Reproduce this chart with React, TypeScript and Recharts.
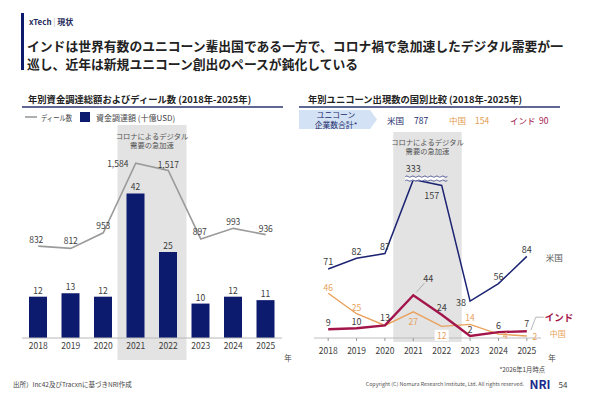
import React from 'react';
import {
  ComposedChart,
  LineChart,
  Bar,
  Line,
  XAxis,
  YAxis,
  ReferenceArea,
  LabelList,
} from 'recharts';

const years = ['2018', '2019', '2020', '2021', '2022', '2023', '2024', '2025'];
const funding = [12, 13, 12, 42, 25, 10, 12, 11];
const deals = [832, 812, 953, 1584, 1517, 897, 993, 936];
const usUnicorns = [71, 82, 87, 333, 157, 38, 56, 84];
const chinaUnicorns = [46, 25, 13, 27, 12, 14, 4, 2];
const indiaUnicorns = [9, 10, 13, 44, 24, 2, 6, 7];
const totalNames = ['米国', '中国', 'インド'];
const totalValues = [787, 154, 90];

// values above this are drawn at the axis break
const US_BREAK = 163;

const FONT = '"Noto Sans CJK JP", "Noto Sans", sans-serif';
const NAVY = '#0d1b6e';
const US_BLUE = '#1b2372';
const ORANGE = '#e9a15b';
const CRIMSON = '#a3154a';
const INK = '#3c3c3c';
const SHADE = '#e3e3e3';

const leftMargin = { top: 128, right: 18, bottom: 25, left: 22 };
const rightMargin = { top: 132, right: 49, bottom: 25, left: 14 };
const RIGHT_W = 290;
const STEP = (RIGHT_W - rightMargin.left - rightMargin.right) / years.length;

const leftData = years.map((year, i) => ({ year, funding: funding[i], deals: deals[i] }));
const rightData = years.map((year, i) => ({
  year,
  us: usUnicorns[i],
  china: chinaUnicorns[i],
  india: indiaUnicorns[i],
}));

type Spot = [number, number] | null;

const pointOf = (p: any) => {
  const vb = p.viewBox || {};
  return { x: (vb.x ?? p.x) as number, y: (vb.y ?? p.y) as number, i: p.index as number };
};

const shade = (padL: number, padR: number, padTop: number, padBottom: number, textY: number) => (p: any) => {
  const cx = p.x + (p.width - padL + padR) / 2;
  const top = p.y - padTop;
  return (
    <g>
      <rect x={p.x - padL} y={top} width={p.width + padL + padR} height={p.height + padTop + padBottom} fill={SHADE} />
      <text x={cx} y={top + textY} textAnchor="middle" dominantBaseline="central" fontSize={7.3} fill="#555">
        コロナによるデジタル
      </text>
      <text x={cx} y={top + textY + 9} textAnchor="middle" dominantBaseline="central" fontSize={7.3} fill="#555">
        需要の急加速
      </text>
    </g>
  );
};

const dealSpots: Spot[] = [[-2, -7], [0, -8], [0, -8], [-18, 0], [0, -7], [-1, -8], [0, -7], [0, -7]];
const DealLabel = (p: any) => {
  const { x, y, i } = pointOf(p);
  const s = dealSpots[i];
  if (!s) return null;
  return (
    <text x={x + s[0]} y={y + s[1]} textAnchor="middle" dominantBaseline="central" fontSize={8.5} fill={INK}>
      {deals[i].toLocaleString('en-US')}
    </text>
  );
};

const wave = (x0: number, x1: number, y: number) => {
  let d = `M${x0},${y}`;
  for (let x = x0; x < x1; x += 6) d += ' q1.5,-1.3 3,0 t3,0';
  return d;
};

const BreakMark = ({ x0, x1, y }: { x0: number; x1: number; y: number }) => (
  <g>
    <rect x={x0} y={y - 2} width={x1 - x0} height={4} fill="#fff" />
    <path d={wave(x0, x1, y - 2)} fill="none" stroke={US_BLUE} strokeWidth={0.7} />
    <path d={wave(x0, x1, y + 2)} fill="none" stroke={US_BLUE} strokeWidth={0.7} />
  </g>
);

const usSpots: Spot[] = [[0, -8], [0, -7], [0, -7], [0, -11], [-10, 10], [-9, 1], [0, -7], [0, -7]];
const UsLabel = (p: any) => {
  const { x, y, i } = pointOf(p);
  const s = usSpots[i];
  return (
    <g>
      {usUnicorns[i] > US_BREAK && <BreakMark x0={x - 8} x1={x + STEP + 2} y={y - 1} />}
      {s && (
        <text x={x + s[0]} y={y + s[1]} textAnchor="middle" dominantBaseline="central" fontSize={9} fill={INK}>
          {usUnicorns[i]}
        </text>
      )}
      {i === years.length - 1 && (
        <text x={x + 19} y={y + 1} dominantBaseline="central" fontSize={8.5} fill="#555">
          米国
        </text>
      )}
    </g>
  );
};

const chinaSpots: Spot[] = [[0, -6.5], [0, -7], null, [0, 9], [0, 9], [0, -7.5], [7, 1], [8, 0]];
const ChinaLabel = (p: any) => {
  const { x, y, i } = pointOf(p);
  const s = chinaSpots[i];
  return (
    <g>
      {s && i === 4 && <rect x={x + s[0] - 7} y={y + s[1] - 5.5} width={14} height={11} fill="#fff" />}
      {s && (
        <text x={x + s[0]} y={y + s[1]} textAnchor="middle" dominantBaseline="central" fontSize={8.5} fill={ORANGE}>
          {chinaUnicorns[i]}
        </text>
      )}
      {i === years.length - 1 && (
        <text x={x + 23} y={y - 3} dominantBaseline="central" fontSize={8} fill={ORANGE}>
          中国
        </text>
      )}
    </g>
  );
};

const indiaSpots: Spot[] = [[0, -7], [0, -6.5], [0, -8], [15, -17], [0, -7], [0, -7], [0, -6.5], [0, -8]];
const IndiaLabel = (p: any) => {
  const { x, y, i } = pointOf(p);
  const s = indiaSpots[i];
  const last = i === years.length - 1;
  return (
    <g>
      {i === 3 && <line x1={x + 3} y1={y - 3} x2={x + 11} y2={y - 12} stroke="#888" strokeWidth={0.6} />}
      {last && (
        <path
          d={`M${x + 4},${y - 1} L${x + 9},${y - 14} L${x + 17},${y - 14}`}
          fill="none"
          stroke="#888"
          strokeWidth={0.6}
        />
      )}
      {s && (
        <text x={x + s[0]} y={y + s[1]} textAnchor="middle" dominantBaseline="central" fontSize={9} fill={INK}>
          {indiaUnicorns[i]}
        </text>
      )}
      {last && (
        <text x={x + 18} y={y - 14} dominantBaseline="central" fontSize={9.5} fontWeight="bold" fill={CRIMSON}>
          インド
        </text>
      )}
    </g>
  );
};

const totalColors = ['#1b2a6b', '#e39b4f', CRIMSON];
const totalNameX = [387, 449, 510];
const totalValueX = [414, 475, 539];

const Decorations = () => (
  <svg width={590} height={393} style={{ position: 'absolute', left: 0, top: 0 }}>
    <rect x={21} y={13} width={3} height={57} fill={NAVY} />
    <text x={29} y={21} dominantBaseline="central" fontSize={8} fontWeight="bold" fill="#1f2a5c">
      xTech<tspan fill="#aaa" fontWeight="normal"> | </tspan>現状
    </text>
    <text x={27} y={45} dominantBaseline="central" fontSize={12.8} fontWeight="bold" fill="#222">
      インドは世界有数のユニコーン輩出国である一方で、コロナ禍で急加速したデジタル需要が一
    </text>
    <text x={27} y={63} dominantBaseline="central" fontSize={12.8} fontWeight="bold" fill="#222">
      巡し、近年は新規ユニコーン創出のペースが鈍化している
    </text>

    <text x={28} y={99} dominantBaseline="central" fontSize={9.3} fontWeight="bold" fill="#222">
      年別資金調達総額およびディール数 (2018年-2025年)
    </text>
    <line x1={22} y1={107} x2={283} y2={107} stroke="#2a3470" strokeWidth={1.5} />
    <line x1={25} y1={117} x2={37} y2={117} stroke="#9b9b9b" strokeWidth={1.6} />
    <text x={41} y={117} dominantBaseline="central" fontSize={7.5} fill="#444" textLength={31} lengthAdjust="spacingAndGlyphs">
      ディール数
    </text>
    <rect x={80} y={112} width={10} height={10} fill={NAVY} />
    <text x={96} y={117} dominantBaseline="central" fontSize={8} fill="#444">資金調達額 (十億USD)</text>

    <text x={308} y={99} dominantBaseline="central" fontSize={9.3} fontWeight="bold" fill="#222">
      年別ユニコーン出現数の国別比較 (2018年-2025年)
    </text>
    <line x1={299} y1={107} x2={560} y2={107} stroke="#2a3470" strokeWidth={1.5} />
    <path d="M299,110 H370 L377,119.5 L370,129 H299 Z" fill="#d3e2f4" />
    <text x={336} y={114} textAnchor="middle" dominantBaseline="central" fontSize={7.8} fill="#1b2a6b">ユニコーン</text>
    <text x={336} y={124.5} textAnchor="middle" dominantBaseline="central" fontSize={7.8} fill="#1b2a6b">企業数合計*</text>
    {totalNames.map((n, i) => (
      <g key={n}>
        <text x={totalNameX[i]} y={120} dominantBaseline="central" fontSize={8.5} fill={totalColors[i]}>{n}</text>
        <text x={totalValueX[i]} y={120} dominantBaseline="central" fontSize={8.5} fill={totalColors[i]}>{totalValues[i]}</text>
      </g>
    ))}

    <text x={288} y={357} textAnchor="middle" dominantBaseline="central" fontSize={7.5} fill="#444">年</text>
    <text x={552} y={357} textAnchor="middle" dominantBaseline="central" fontSize={7.5} fill="#444">年</text>
    <text x={545} y={369} textAnchor="end" dominantBaseline="central" fontSize={6.3} fill="#444">*2026年1月時点</text>

    <text x={13} y={384} dominantBaseline="central" fontSize={6.5} fill="#444">出所）Inc42及びTracxnに基づきNRI作成</text>
    <text x={524} y={384} textAnchor="end" dominantBaseline="central" fontSize={5.3} fill="#555">
      Copyright (C)  Nomura Research Institute, Ltd. All rights reserved.
    </text>
    <text x={540} y={383} textAnchor="middle" dominantBaseline="central" fontSize={12} fontWeight="bold" fill="#1b2a8c">NRI</text>
    <text x={563} y={384} textAnchor="middle" dominantBaseline="central" fontSize={8} fill="#444">54</text>
  </svg>
);

export default function App() {
  return (
    <div style={{ position: 'absolute', left: 0, top: 0, width: 590, height: 393, background: '#fff', fontFamily: FONT }}>
      <Decorations />
      <div style={{ position: 'absolute', left: 0, top: 0 }}>
        <ComposedChart width={300} height={393} data={leftData} margin={leftMargin}>
          <XAxis
            dataKey="year"
            interval={0}
            height={30}
            axisLine={{ stroke: '#b8b8b8' }}
            tickLine={false}
            tickSize={3}
            tickMargin={2}
            tick={{ fontSize: 8.5, fill: INK }}
          />
          <YAxis yAxisId="bar" hide domain={[0, 61]} />
          <YAxis yAxisId="deal" hide orientation="right" domain={[0, 1902]} />
          <ReferenceArea yAxisId="bar" x1="2021" x2="2022" zIndex={-60} shape={shade(2, 2, 3, 22, 11)} />
          <Bar yAxisId="bar" dataKey="funding" fill={NAVY} barSize={18} isAnimationActive={false}>
            <LabelList dataKey="funding" position="top" offset={3} fontSize={8.5} fill={INK} />
          </Bar>
          <Line
            yAxisId="deal"
            dataKey="deals"
            stroke="#9b9b9b"
            strokeWidth={1.6}
            dot={false}
            isAnimationActive={false}
          >
            <LabelList dataKey="deals" content={DealLabel} />
          </Line>
        </ComposedChart>
      </div>
      <div style={{ position: 'absolute', left: 300, top: 0 }}>
        <LineChart width={RIGHT_W} height={393} data={rightData} margin={rightMargin}>
          <XAxis
            dataKey="year"
            scale="point"
            padding={{ left: STEP / 2, right: STEP / 2 }}
            interval={0}
            height={30}
            axisLine={{ stroke: '#bdbdbd' }}
            tickLine={{ stroke: '#999' }}
            tickSize={3}
            tickMargin={7}
            tick={{ fontSize: 8.5, fill: INK }}
          />
          <YAxis hide domain={[0, 212]} />
          <ReferenceArea x1="2021" x2="2022" zIndex={-60} shape={shade(20, 20, 0, 4, 10)} />
          <Line dataKey="china" stroke={ORANGE} strokeWidth={1.4} dot={false} isAnimationActive={false}>
            <LabelList dataKey="china" content={ChinaLabel} />
          </Line>
          <Line
            dataKey={(d: any) => Math.min(d.us, US_BREAK)}
            stroke={US_BLUE}
            strokeWidth={1.5}
            dot={false}
            isAnimationActive={false}
          >
            <LabelList content={UsLabel} />
          </Line>
          <Line dataKey="india" stroke={CRIMSON} strokeWidth={2.4} dot={false} isAnimationActive={false}>
            <LabelList dataKey="india" content={IndiaLabel} />
          </Line>
        </LineChart>
      </div>
    </div>
  );
}
